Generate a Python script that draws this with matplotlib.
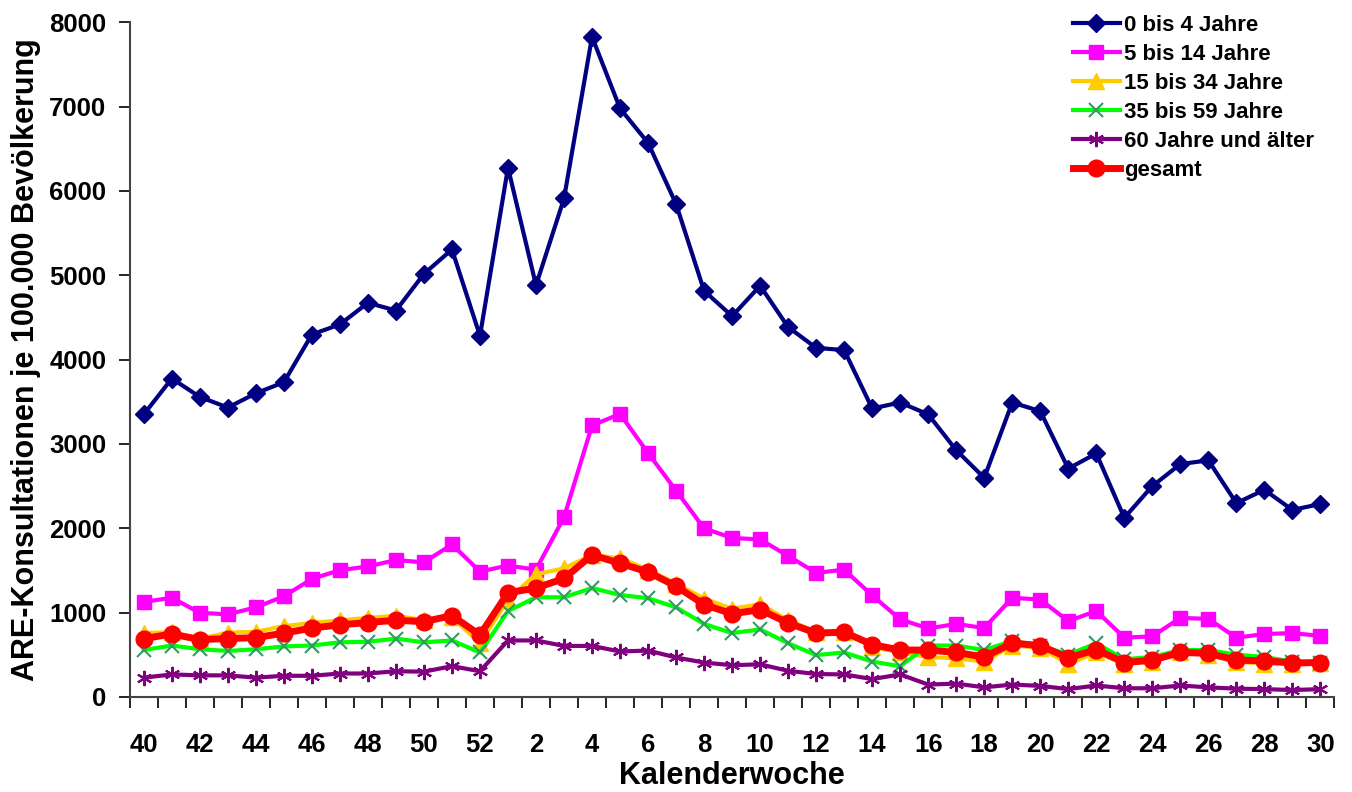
import matplotlib.pyplot as plt

plt.rcParams['font.family'] = ['Liberation Sans', 'DejaVu Sans']
plt.rcParams['font.weight'] = 'bold'

# calendar weeks 40..52 and 1..30
weeks = list(range(40, 53)) + list(range(1, 31))

age_0_4 = [3350, 3775, 3557, 3431, 3600, 3731, 4297, 4417, 4673, 4581, 5016, 5305, 4281,
           6275, 4880, 5910, 7827, 6977, 6569, 5844, 4815, 4515, 4875, 4385, 4139, 4112, 3420, 3491,
           3350, 2925, 2598, 3491, 3388, 2707, 2887, 2124, 2500, 2761, 2805, 2298, 2456, 2217, 2288]
age_5_14 = [1127, 1176, 997, 980, 1062, 1193, 1400, 1503, 1547, 1623, 1596, 1808, 1487,
            1558, 1509, 2130, 3219, 3355, 2892, 2446, 1999, 1885, 1868, 1672, 1471, 1509, 1204, 920,
            812, 866, 817, 1176, 1155, 899, 1019, 703, 719, 937, 926, 703, 746, 757, 724]
age_15_34 = [757, 768, 692, 762, 773, 839, 877, 910, 937, 964, 910, 948, 637,
             1155, 1454, 1525, 1683, 1645, 1509, 1345, 1166, 1046, 1100, 910, 773, 773, 594, 528,
             474, 458, 419, 610, 583, 392, 528, 392, 419, 528, 501, 419, 392, 392, 408]
age_35_59 = [556, 610, 566, 545, 566, 599, 610, 648, 654, 692, 648, 670, 528,
             1018, 1182, 1182, 1291, 1209, 1171, 1062, 866, 757, 801, 637, 496, 528, 419, 365,
             610, 610, 556, 664, 610, 501, 637, 447, 474, 556, 556, 501, 474, 419, 408]
age_60 = [229, 267, 256, 256, 229, 251, 251, 278, 278, 305, 300, 365, 305,
          670, 670, 605, 605, 539, 550, 468, 408, 376, 387, 310, 272, 267, 212, 267,
          147, 158, 114, 147, 131, 93, 136, 103, 103, 136, 114, 98, 93, 82, 93]
total = [692, 746, 681, 692, 703, 757, 817, 855, 882, 910, 893, 964, 735,
         1236, 1291, 1405, 1683, 1585, 1481, 1313, 1095, 986, 1035, 877, 757, 768, 621, 556,
         556, 528, 474, 637, 610, 463, 561, 408, 436, 528, 517, 436, 430, 403, 408]

x = list(range(len(weeks)))

fig = plt.figure(figsize=(13.52, 7.92), dpi=100)
ax = fig.add_axes([0.096, 0.120, 0.891, 0.852])

ax.plot(x, age_0_4, color='#000080', lw=3, marker='D', ms=9, label='0 bis 4 Jahre')
ax.plot(x, age_5_14, color='#FF00FF', lw=3, marker='s', ms=10, label='5 bis 14 Jahre')
ax.plot(x, age_15_34, color='#FFCC00', lw=3, marker='^', ms=11, label='15 bis 34 Jahre')
ax.plot(x, age_35_59, color='#00FF00', lw=3, marker='x', ms=10, mew=1.5,
        mec='#339966', label='35 bis 59 Jahre')
ax.plot(x, age_60, color='#800080', lw=3, marker=(6, 2, 0), ms=11, mew=1.5, label='60 Jahre und älter')
ax.plot(x, total, color='#FF0000', lw=5, marker='o', ms=12, label='gesamt')

ax.set_xlim(-0.5, len(weeks) - 0.5)
ax.set_ylim(0, 8000)
ax.set_yticks(range(0, 8001, 1000))
ax.tick_params(axis='y', labelsize=18.5, length=8, width=1.2, pad=9)

# tick marks between categories, labels on every second week
ax.set_xticks([i - 0.5 for i in range(len(weeks) + 1)])
ax.set_xticklabels([])
ax.set_xticks(x[::2], minor=True)
ax.set_xticklabels([str(w) for w in weeks[::2]], minor=True)
ax.tick_params(axis='x', which='major', length=8, width=1.2)
ax.tick_params(axis='x', which='minor', length=0, labelsize=18.5, pad=26)

for s in ['top', 'right']:
    ax.spines[s].set_visible(False)
for s in ['left', 'bottom']:
    ax.spines[s].set_linewidth(1.5)
    ax.spines[s].set_color('#444444')

ax.set_xlabel('Kalenderwoche', fontsize=22, fontweight='bold', labelpad=3)
ax.set_ylabel('ARE-Konsultationen je 100.000 Bevölkerung', fontsize=22, fontweight='bold', labelpad=6)

ax.legend(loc='upper left', bbox_to_anchor=(1073 / 1352, 1 - 15 / 792), bbox_transform=fig.transFigure,
          frameon=False, fontsize=16, borderpad=0, borderaxespad=0,
          handlelength=2.1, handletextpad=0.2, labelspacing=0.36)

plt.savefig('out.png')
